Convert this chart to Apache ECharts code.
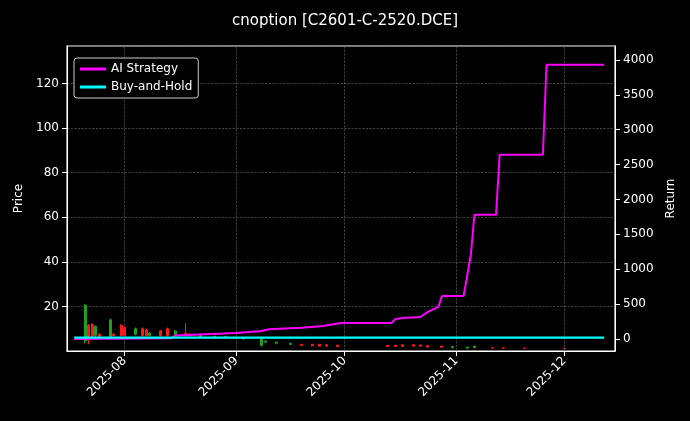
<!DOCTYPE html>
<html><head><meta charset="utf-8">
<script src="https://cdn.jsdelivr.net/npm/echarts@6/dist/echarts.min.js"></script>
<style>html,body{margin:0;background:#000}#c{width:690px;height:421px}</style></head>
<body><div id="c"></div>
<script>
const titleText = 'cnoption [C2601-C-2520.DCE]';
// candles: [date, open, close, low, high]
const candles = [
['2025-07-21',20.5,4.5,3.5,21],['2025-07-22',5,11.5,3,12],['2025-07-23',6,12,5,12.5],['2025-07-24',11,7,6,11.5],
['2025-07-25',6.5,7.5,5.5,8],['2025-07-28',14,6.5,6,14.5],['2025-07-29',7,7.5,6.5,8],
['2025-07-31',7,11.5,6.5,12],['2025-08-01',7,10.5,6.5,11],['2025-08-04',10,7.5,7,10.5],
['2025-08-06',7,10,6,10.5],['2025-08-07',7,9.5,6.5,10],['2025-08-08',8,7,6.5,8.5],['2025-08-11',7,9,6.5,9.5],
['2025-08-13',7,10,6.5,10.5],['2025-08-15',9,7.5,7,9.5],['2025-08-18',7,8,6.5,12.5],['2025-08-19',7,7.5,6.5,8],
['2025-08-22',7,6.5,6,7.5],['2025-08-26',6.5,6,5.5,7],['2025-08-29',6.5,6,5.5,6.5],['2025-09-03',6,5.5,5,6],
['2025-09-08',5.5,2.5,2,5.5],['2025-09-09',4.5,4,3.5,4.5],['2025-09-12',4,3.5,3,4],['2025-09-16',3.5,3,2.8,3.5],
['2025-09-19',2.5,3,2.5,3],['2025-09-22',2.5,3,2,3.2],['2025-09-24',2.2,3,2,3.2],['2025-09-26',2.3,2.8,2,3],
['2025-09-29',2,2.6,1.8,2.8],['2025-10-13',2,2.5,1.8,2.6],['2025-10-15',2,2.6,1.8,2.7],['2025-10-17',2,2.8,1.8,3],
['2025-10-20',2.2,2.8,2,2.9],['2025-10-22',2.2,2.7,2,2.8],['2025-10-24',1.8,2.4,1.6,2.5],['2025-10-28',1.7,2.2,1.5,2.3],
['2025-10-31',2,1.5,1.2,2],['2025-11-04',1.8,1.3,1,1.8],['2025-11-06',2.2,1.5,1.3,2.3],['2025-11-11',1.3,1.5,1.1,1.6],
['2025-11-14',1.3,1.4,1.1,1.5],['2025-11-20',1.2,1.3,1,1.4],['2025-12-01',1.1,1.2,1,1.3]
];
const stratDates = ['2025-07-18','2025-08-14','2025-08-15','2025-09-01','2025-09-08','2025-09-10','2025-09-19','2025-09-25','2025-09-30','2025-10-14','2025-10-15','2025-10-17','2025-10-22','2025-10-24','2025-10-27','2025-10-28','2025-11-03','2025-11-05','2025-11-06','2025-11-12','2025-11-13','2025-11-25','2025-11-26','2025-12-12'];
const stratVals  = [0,10,50,85,115,140,160,185,230,230,285,300,315,385,460,615,615,1200,1780,1780,2640,2640,3930,3930];
const bhDates = ['2025-07-18','2025-12-12'];
const bhVals = [20,20];
const returnTicks = [0,500,1000,1500,2000,2500,3000,3500,4000];

const chart = echarts.init(document.getElementById('c'));
const grid = '#666';
chart.setOption({
  backgroundColor:'#000',
  animation:false,
  title:{text:titleText,left:'center',top:9,textStyle:{color:'#fff',fontSize:15,fontWeight:'normal',fontFamily:'DejaVu Sans'}},
  legend:{left:74,top:58,orient:'vertical',itemGap:6,itemWidth:26,itemHeight:3,
    backgroundColor:'#000',borderColor:'#ccc',borderWidth:1,borderRadius:3,padding:[5,6],
    textStyle:{color:'#fff',fontSize:12,fontFamily:'DejaVu Sans'},
    data:[{name:'AI Strategy',icon:'rect'},{name:'Buy-and-Hold',icon:'rect'}]},
  grid:{left:67,right:75,top:46,bottom:70,show:true,borderColor:'#fff',borderWidth:1.2},
  xAxis:{type:'time',min:'2025-07-16',max:'2025-12-15',
    axisLine:{lineStyle:{color:'#fff'}},axisTick:{lineStyle:{color:'#fff'}},
    axisLabel:{color:'#fff',rotate:45,fontSize:12,fontFamily:'DejaVu Sans',formatter:'{yyyy}-{MM}',hideOverlap:false},
    splitLine:{show:true,lineStyle:{color:grid,type:'dashed',width:0.6}}},
  yAxis:[
    {type:'value',name:'Price',nameLocation:'middle',nameGap:42,nameTextStyle:{color:'#fff',fontSize:12,fontFamily:'DejaVu Sans'},
     min:0,max:136.8,interval:20,
     axisLabel:{color:'#fff',fontSize:12,fontFamily:'DejaVu Sans',showMaxLabel:false,showMinLabel:false},axisLine:{show:true,lineStyle:{color:'#fff'}},axisTick:{show:true},
     splitLine:{lineStyle:{color:grid,type:'dashed',width:0.6}}},
    {type:'value',name:'Return',nameLocation:'middle',nameGap:50,nameTextStyle:{color:'#fff',fontSize:12,fontFamily:'DejaVu Sans'},
     min:-172,max:4200,
     axisLabel:{color:'#fff',fontSize:12,fontFamily:'DejaVu Sans',customValues:returnTicks,formatter:v=>String(v)},
     axisTick:{show:true,customValues:returnTicks},
     axisLine:{show:true,lineStyle:{color:'#fff'}},
     splitLine:{show:false}}
  ],
  series:[
    {type:'candlestick',yAxisIndex:0,barWidth:2.5,
     data:candles.map(c=>[c[0],c[1],c[2],c[3],c[4]]),
     itemStyle:{color:'#ff1a1a',color0:'#1fa01f',borderColor:'#ff1a1a',borderColor0:'#1fa01f'}},
    {name:'AI Strategy',type:'line',yAxisIndex:1,showSymbol:false,lineStyle:{color:'#ff00ff',width:2},itemStyle:{color:'#ff00ff'},
     data:stratDates.map((d,i)=>[d,stratVals[i]])},
    {name:'Buy-and-Hold',type:'line',yAxisIndex:1,showSymbol:false,lineStyle:{color:'#00ffff',width:2.2},itemStyle:{color:'#00ffff'},
     data:bhDates.map((d,i)=>[d,bhVals[i]])}
  ]
});
</script></body></html>
